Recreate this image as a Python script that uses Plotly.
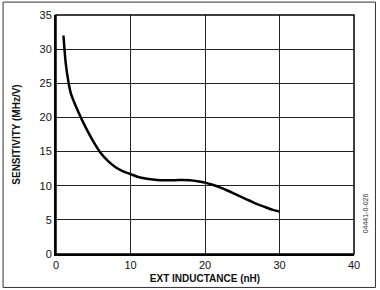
import plotly.graph_objects as go

inductance = [1, 1.3, 1.7, 2, 3, 4, 5, 6, 7, 8, 9, 10, 11, 12, 13, 14, 15, 16, 17, 18, 19, 20,
              21, 22, 23, 24, 25, 26, 27, 28, 29, 30]
sensitivity = [32, 28, 25, 23.5, 20.8, 18.5, 16.5, 14.8, 13.6, 12.7, 12.1, 11.7, 11.3, 11.05,
               10.9, 10.8, 10.8, 10.8, 10.85, 10.8, 10.65, 10.45, 10.15, 9.75, 9.3, 8.8, 8.3,
               7.8, 7.3, 6.9, 6.5, 6.2]
x_ticks = [0, 10, 20, 30, 40]
y_ticks = [0, 5, 10, 15, 20, 25, 30, 35]

fig = go.Figure()
fig.add_trace(go.Scatter(x=inductance, y=sensitivity, mode="lines",
                         line=dict(color="black", width=2.5, shape="spline", smoothing=0.6),
                         hoverinfo="skip", showlegend=False))

font = dict(family="Liberation Sans, Arial, sans-serif", size=11, color="#111")
fig.update_layout(
    width=380, height=290,
    margin=dict(l=55.5, r=26, t=15, b=36),
    paper_bgcolor="white", plot_bgcolor="white",
    font=font,
    xaxis=dict(range=[0, 40], tickvals=x_ticks, showgrid=True, gridcolor="#222", gridwidth=1,
               showline=True, linecolor="black", linewidth=2, zeroline=False, automargin=False,
               ticks="", tickfont=dict(size=11),
               title=dict(text="<b>EXT INDUCTANCE (nH)</b>", font=dict(size=10), standoff=5)),
    yaxis=dict(range=[0, 35], tickvals=y_ticks, showgrid=True, gridcolor="#222", gridwidth=1,
               showline=True, linecolor="black", linewidth=2, zeroline=False, automargin=False,
               ticks="", tickfont=dict(size=11),
               title=dict(text="<b>SENSITIVITY (MHz/V)</b>", font=dict(size=10), standoff=17)),
    shapes=[
        dict(type="rect", xref="paper", yref="paper", x0=0, x1=1, y0=0, y1=1,
             line=dict(color="black", width=1.5)),
        dict(type="rect", xref="paper", yref="paper", x0=-0.1776, x1=1.072, y0=-0.140, y1=1.054,
             line=dict(color="#333", width=1)),
    ],
    annotations=[
        dict(text="04441-0-026", xref="paper", yref="paper", x=1.057, y=0.08,
             showarrow=False, textangle=-90, font=dict(size=7, color="#333")),
    ],
)
fig.write_html("out.html")
